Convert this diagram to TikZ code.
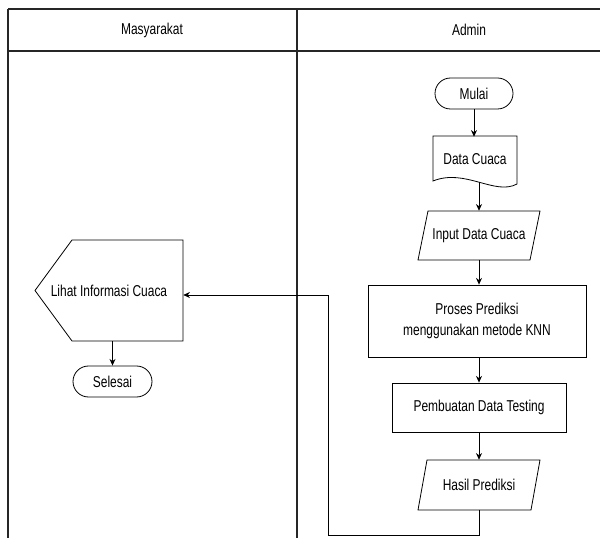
\documentclass[tikz,border=0pt]{standalone}
\usepackage{fontspec}
\setmainfont{Liberation Sans}[FakeStretch=0.76]
\usetikzlibrary{shapes.misc,arrows.meta}
\tikzset{
  lane/.style={line width=0.9pt, draw=black!85},
  shp/.style={draw, line width=0.6pt},
  lbl/.style={font=\fontsize{11.8}{13.5}\selectfont, inner sep=0pt, align=center},
  term/.style={lbl, shp, rounded rectangle, minimum width=58.5pt, minimum height=23.25pt},
  procbox/.style={lbl, shp, rectangle},
  ghost/.style={lbl, draw=none},
  flow/.style={line width=0.6pt, -{Stealth[length=5pt,width=4.5pt]}},
}
\begin{document}
\begin{tikzpicture}[x=0.75pt,y=-0.75pt]
\useasboundingbox (0,0) rectangle (600,538);
% swimlane frame
\draw[lane] (8,9) -- (600,9);
\draw[lane] (8,51) -- (600,51);
\draw[lane] (8,9) -- (8,538);
\draw[lane] (297,9) -- (297,538);
\node[ghost] (hm) at (152,30) {Masyarakat};
\node[ghost] (ha) at (469,30) {Admin};

% Admin lane
\node[term] (mulai) at (474,93.5) {Mulai};

\draw[shp] (433,136) -- (517,136) -- (517,184) .. controls (495,196) and (465,168) .. (433,181) -- cycle;
\node[ghost, minimum width=63pt, minimum height=33pt] (data) at (475,159) {Data Cuaca};
\coordinate (dataout) at (479,182);

\draw[shp] (418,260) -- (428,211) -- (540,211) -- (530,260) -- cycle;
\node[ghost, minimum width=84pt, minimum height=36.75pt] (input) at (479,235.5) {Input Data Cuaca};

\node[procbox, minimum width=163.5pt, minimum height=54pt] (proses) at (477,321) {Proses Prediksi\\[2pt]menggunakan metode KNN};

\node[procbox, minimum width=130.5pt, minimum height=36.75pt] (buat) at (479,407.5) {Pembuatan Data Testing};

\draw[shp] (418,510) -- (427,460) -- (540,460) -- (531,510) -- cycle;
\node[ghost, minimum width=84pt, minimum height=37.5pt] (hasil) at (479,485) {Hasil Prediksi};

% Masyarakat lane
\draw[shp] (35,290.5) -- (72,240) -- (183,240) -- (183,341) -- (72,341) -- cycle;
\node[ghost, minimum width=111pt, minimum height=75.75pt] (lihat) at (109,290.5) {Lihat Informasi Cuaca};

\node[term, minimum width=59.25pt] (selesai) at (112.5,381.5) {Selesai};

% connectors
\draw[flow] (mulai.south) -- (mulai.south |- data.north);
\draw[flow] (dataout) -- (input.north);
\draw[flow] (input.south) -- (input.south |- proses.north);
\draw[flow] (input.south |- proses.south) -- (buat.north);
\draw[flow] (buat.south) -- (hasil.north);
\coordinate (b1) at (479,535);
\coordinate (b2) at (328,535);
\coordinate (b3) at (328,295);
\draw[flow] (hasil.south) -- (b1) -- (b2) -- (b3) -- (lihat.east |- b3);
\draw[flow] (selesai.north |- lihat.south) -- (selesai.north);
\end{tikzpicture}
\end{document}
